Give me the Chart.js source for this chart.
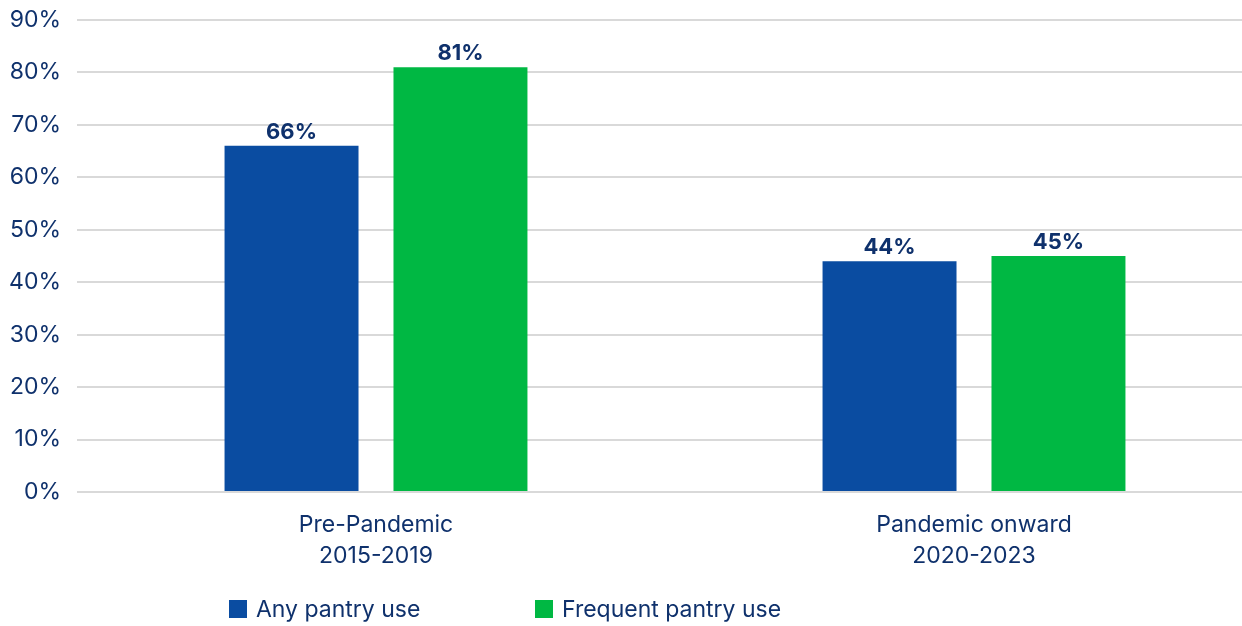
<!DOCTYPE html>
<html>
<head>
<meta charset="utf-8">
<style>
  html, body { margin: 0; padding: 0; background: #ffffff; overflow: hidden; }
  #wrap { width: 1273px; height: 626px; position: relative; }
</style>
<script src="https://cdn.jsdelivr.net/npm/chart.js@4.4.1/dist/chart.umd.min.js"></script>
</head>
<body>
<div id="wrap"><canvas id="chart"></canvas></div>
<script>
// Share of respondents by period
const categories = [['Pre-Pandemic', '2015-2019'], ['Pandemic onward', '2020-2023']];
const seriesNames = ['Any pantry use', 'Frequent pantry use'];
const anyPantryUse = [66, 44];
const frequentPantryUse = [81, 45];
const yMin = 0;
const yMax = 90;
const yStep = 10;

const BLUE = '#0a4ca1';
const GREEN = '#00b843';
const TEXT = '#0f316c';
const GRID = '#d9d9d9';
const FONT = 'Inter, "Liberation Sans", Arial, sans-serif';

// Percentage labels above each bar
const valueLabels = {
  id: 'valueLabels',
  afterDatasetsDraw(chart) {
    const ctx = chart.ctx;
    ctx.save();
    ctx.font = 'bold 22px ' + FONT;
    ctx.fillStyle = TEXT;
    ctx.textAlign = 'center';
    ctx.textBaseline = 'alphabetic';
    chart.data.datasets.forEach((ds, di) => {
      chart.getDatasetMeta(di).data.forEach((bar, i) => {
        ctx.fillText(ds.data[i] + '%', bar.x, bar.y - 7);
      });
    });
    ctx.restore();
  }
};

// Legend row under the category labels
const legendRow = {
  id: 'legendRow',
  afterDraw(chart) {
    const ctx = chart.ctx;
    const starts = [229, 535];
    const midY = 609;
    ctx.save();
    ctx.font = '23px ' + FONT;
    ctx.textAlign = 'left';
    ctx.textBaseline = 'middle';
    chart.data.datasets.forEach((ds, di) => {
      const x = starts[di];
      ctx.fillStyle = ds.backgroundColor;
      ctx.fillRect(x, midY - 9, 18, 18);
      ctx.fillStyle = TEXT;
      ctx.fillText(ds.label, x + 27, midY + 1);
    });
    ctx.restore();
  }
};

new Chart(document.getElementById('chart'), {
  type: 'bar',
  data: {
    labels: categories,
    datasets: [
      { label: seriesNames[0], data: anyPantryUse, backgroundColor: BLUE },
      { label: seriesNames[1], data: frequentPantryUse, backgroundColor: GREEN }
    ]
  },
  options: {
    responsive: true,
    maintainAspectRatio: false,
    animation: false,
    layout: { padding: { left: 0, right: 0, top: 20, bottom: 0 } },
    datasets: {
      bar: { categoryPercentage: 0.565, barPercentage: 0.793, borderWidth: 0 }
    },
    plugins: {
      legend: { display: false },
      tooltip: { enabled: false }
    },
    scales: {
      x: {
        grid: { display: false, drawTicks: false },
        border: { display: false },
        ticks: {
          color: TEXT,
          font: { family: FONT, size: 23, lineHeight: 1.35 },
          padding: 18,
          maxRotation: 0
        },
        afterFit(scale) { scale.height = 134; }
      },
      y: {
        min: yMin,
        max: yMax,
        grid: {
          color: GRID,
          lineWidth: 2,
          drawTicks: true,
          tickLength: 11,
          tickColor: 'rgba(0,0,0,0)'
        },
        border: { display: false },
        ticks: {
          stepSize: yStep,
          color: TEXT,
          font: { family: FONT, size: 23 },
          padding: 5,
          callback: (v) => v + '%'
        },
        afterFit(scale) { scale.width = 77; }
      }
    }
  },
  plugins: [valueLabels, legendRow]
});
</script>
</body>
</html>
